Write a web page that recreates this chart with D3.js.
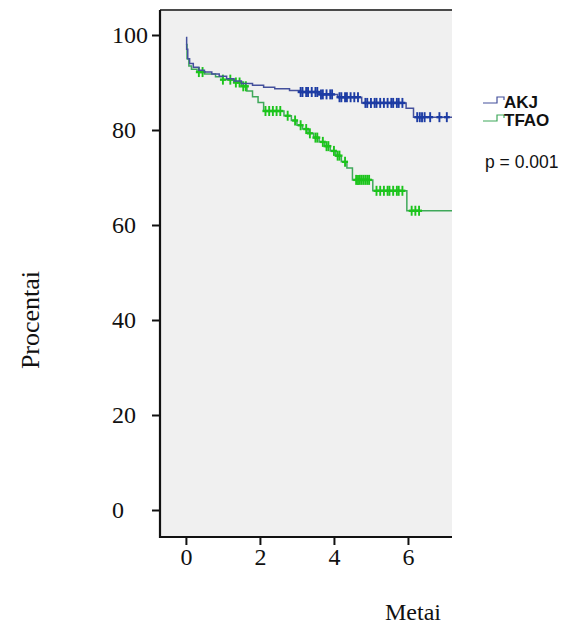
<!DOCTYPE html>
<html>
<head>
<meta charset="utf-8">
<script src="https://cdn.jsdelivr.net/npm/d3@7"></script>
<style>
  html, body { margin: 0; padding: 0; background: #ffffff; }
  svg { display: block; }
</style>
</head>
<body>
<svg id="chart" width="581" height="626"></svg>
<script>
// Kaplan–Meier survival curves: step times (years) and survival (%) after each step
const akjTimes = [0, 0.02, 0.05, 0.1, 0.2, 0.35, 0.5, 0.7, 0.9, 1.1, 1.3, 1.5, 1.8, 2.1, 2.4, 2.8, 3.1, 3.6, 4.1, 4.75, 5.95, 6.15];
const akjSurv  = [99.5, 97, 95, 94, 93.2, 92.6, 92.2, 91.8, 91.3, 90.8, 90.3, 89.8, 89.4, 89.0, 88.7, 88.3, 88.0, 87.5, 86.9, 85.7, 84.6, 82.7];
const akjCensored = [3.1, 3.15, 3.25, 3.3, 3.4, 3.5, 3.55, 3.65, 3.7, 3.8, 3.9, 3.95, 4.15, 4.2, 4.3, 4.35, 4.45, 4.55, 4.65,
                     4.85, 4.9, 5.0, 5.1, 5.15, 5.25, 5.35, 5.45, 5.55, 5.6, 5.7, 5.75, 5.85,
                     6.25, 6.32, 6.38, 6.45, 6.6, 6.85, 7.05];

const tfaoTimes = [0, 0.03, 0.08, 0.15, 0.3, 0.5, 0.8, 1.0, 1.3, 1.5, 1.65, 1.8, 1.95, 2.1, 2.65, 2.85, 3.0, 3.15, 3.3, 3.45, 3.6, 3.75, 3.9, 4.05, 4.2, 4.35, 4.5, 5.05, 5.97];
const tfaoSurv  = [98, 95, 93.5, 92.8, 92.2, 91.8, 91.2, 90.6, 90.0, 89.2, 88.2, 87.0, 85.8, 84.0, 83.0, 82.0, 81.0, 80.2, 79.3, 78.4, 77.5, 76.6, 75.6, 74.6, 73.3, 72.0, 69.5, 67.2, 63.0];
const tfaoCensored = [0.35, 0.45, 1.0, 1.2, 1.35, 1.45, 1.55, 1.62, 2.15, 2.25, 2.35, 2.45, 2.55, 2.75, 2.95, 3.1, 3.25, 3.35, 3.5, 3.55,
                      3.7, 3.8, 3.85, 4.0, 4.1, 4.15, 4.3, 4.6, 4.65, 4.7, 4.75, 4.8, 4.85, 4.9, 4.95,
                      5.15, 5.25, 5.35, 5.45, 5.5, 5.6, 5.7, 5.75, 5.85, 6.1, 6.2, 6.3];

const followUpEnd = 7.19;
const seriesNames = ["AKJ", "TFAO"];
const xTicks = [0, 2, 4, 6];
const yTicks = [0, 20, 40, 60, 80, 100];
const pValueLabel = "p = 0.001";
const xTitle = "Metai";
const yTitle = "Procentai";

const lineColors = ["#44509c", "#3fa85a"];
const markColors = ["#1d3ca4", "#1cc41c"];

const svg = d3.select("#chart");
const plot = { left: 160, right: 452, top: 10, bottom: 537 };

const x = d3.scaleLinear().domain([-0.7, followUpEnd]).range([plot.left, plot.right]);
const y = d3.scaleLinear().domain([0, 100]).range([510, 35]);

// plot background
svg.append("rect")
  .attr("x", plot.left).attr("y", plot.top)
  .attr("width", plot.right - plot.left).attr("height", plot.bottom - plot.top)
  .attr("fill", "#f0f0f0");

// frame: top rule, left and bottom axes lines
svg.append("line")
  .attr("x1", plot.left).attr("x2", plot.right)
  .attr("y1", plot.top).attr("y2", plot.top)
  .attr("stroke", "#4a4a4a").attr("stroke-width", 2);

const serif = "'Liberation Serif', 'Times New Roman', serif";

const yAxis = svg.append("g")
  .attr("transform", `translate(${plot.left},0)`)
  .call(d3.axisLeft(y).tickValues(yTicks).tickSize(8).tickPadding(4).tickFormat(d3.format("d")));
yAxis.select(".domain").remove();
yAxis.selectAll(".tick line").attr("stroke", "#111").attr("stroke-width", 2);
yAxis.selectAll(".tick text")
  .attr("x", -48).attr("dy", "0.33em")
  .attr("text-anchor", "start")
  .attr("font-family", serif).attr("font-size", 24).attr("fill", "#111");

const xAxis = svg.append("g")
  .attr("transform", `translate(0,${plot.bottom})`)
  .call(d3.axisBottom(x).tickValues(xTicks).tickSize(8).tickPadding(3).tickFormat(d3.format("d")));
xAxis.select(".domain").remove();
xAxis.selectAll(".tick line").attr("stroke", "#111").attr("stroke-width", 2);
xAxis.selectAll(".tick text")
  .attr("font-family", serif).attr("font-size", 24).attr("fill", "#111");

svg.append("line")
  .attr("x1", plot.left).attr("x2", plot.left)
  .attr("y1", plot.top).attr("y2", plot.bottom + 1)
  .attr("stroke", "#111").attr("stroke-width", 2.2);
svg.append("line")
  .attr("x1", plot.left).attr("x2", plot.right)
  .attr("y1", plot.bottom).attr("y2", plot.bottom)
  .attr("stroke", "#111").attr("stroke-width", 2.2);

// axis titles
svg.append("text")
  .attr("x", 413).attr("y", 620)
  .attr("text-anchor", "middle")
  .attr("font-family", serif).attr("font-size", 24).attr("fill", "#111")
  .text(xTitle);
svg.append("text")
  .attr("transform", "translate(39,320) rotate(-90)")
  .attr("text-anchor", "middle")
  .attr("font-family", serif).attr("font-size", 26).attr("fill", "#111")
  .text(yTitle);

// survival curves
const series = [
  { times: akjTimes, surv: akjSurv, censored: akjCensored },
  { times: tfaoTimes, surv: tfaoSurv, censored: tfaoCensored }
];

const line = d3.line()
  .x(d => x(d[0]))
  .y(d => y(d[1]))
  .curve(d3.curveStepAfter);

const bisect = d3.bisector(d => d).right;

// draw TFAO first so the AKJ line sits on top at the shared start
[1, 0].forEach(i => {
  const s = series[i];
  const pts = s.times.map((t, k) => [t, s.surv[k]]);
  pts.push([followUpEnd, s.surv[s.surv.length - 1]]);
  svg.append("path")
    .attr("d", line(pts))
    .attr("fill", "none")
    .attr("stroke", lineColors[i])
    .attr("stroke-width", 1.5);

  const survAt = t => s.surv[Math.max(0, bisect(s.times, t) - 1)];
  const g = svg.append("g")
    .attr("stroke", markColors[i]).attr("stroke-width", 1.9);
  g.selectAll("line.v")
    .data(s.censored)
    .join("line")
    .attr("x1", d => x(d)).attr("x2", d => x(d))
    .attr("y1", d => y(survAt(d)) - 5).attr("y2", d => y(survAt(d)) + 5);
  g.selectAll("line.h")
    .data(s.censored)
    .join("line")
    .attr("x1", d => x(d) - 3).attr("x2", d => x(d) + 3)
    .attr("y1", d => y(survAt(d))).attr("y2", d => y(survAt(d)))
    .attr("stroke-width", 2.4);
});

// legend
const legend = svg.append("g").attr("transform", "translate(483,0)");
const legendRows = [103, 121];
seriesNames.forEach((name, i) => {
  const yb = legendRows[i];
  legend.append("path")
    .attr("d", `M0,${yb} H14 V${yb - 6} H21 V${yb - 3}`)
    .attr("fill", "none")
    .attr("stroke", lineColors[i])
    .attr("stroke-width", 1.2);
  legend.append("text")
    .attr("x", 21).attr("y", yb + 5)
    .attr("font-family", "'Liberation Sans', Arial, sans-serif")
    .attr("font-weight", "bold").attr("font-size", 17).attr("fill", "#111")
    .text(name);
});

svg.append("text")
  .attr("x", 485).attr("y", 168)
  .attr("font-family", "'Liberation Sans', Arial, sans-serif")
  .attr("font-size", 17.5).attr("fill", "#111")
  .text(pValueLabel);
</script>
</body>
</html>
